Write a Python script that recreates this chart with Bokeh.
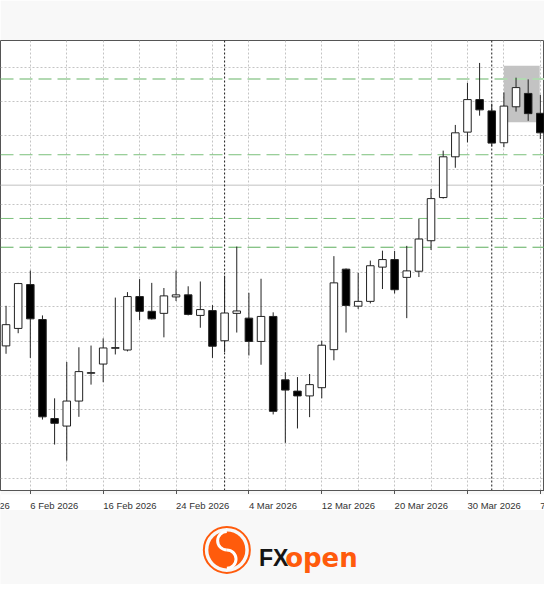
import numpy as np
import pandas as pd
from bokeh.plotting import figure
from bokeh.models import (Range1d, FixedTicker, Span, LinearAxis, ColumnDataSource,
                          BoxAnnotation)
from bokeh.layouts import column
from bokeh.embed import file_html
from bokeh.resources import INLINE
from bokeh.core.properties import value

# ---------------- data ----------------
first_day = "2026-02-04"
dates = pd.bdate_range(first_day, "2026-04-07")  # daily bars (weekdays)

opens = [138.6, 143.7, 156.5, 146.3, 117.4, 115.2, 122.5, 130.6, 133.3, 137.9,
         137.4, 153.0, 148.7, 148.1, 152.9, 153.5, 147.5, 148.9, 140.1, 148.1,
         146.7, 139.9, 147.2, 128.7, 125.4, 124.0, 126.4, 137.5, 161.0, 150.2,
         151.6, 161.6, 163.8, 158.6, 160.4, 169.3, 181.9, 193.8, 201.0, 210.5,
         207.2, 197.9, 208.4, 212.3, 206.5]
highs = [150.3, 157.0, 160.6, 147.5, 123.3, 133.9, 138.2, 138.7, 140.8, 152.7,
         154.3, 158.1, 157.0, 155.5, 160.6, 156.0, 157.4, 150.5, 159.1, 167.6,
         154.1, 158.2, 148.4, 130.9, 129.5, 130.4, 140.1, 164.8, 161.2, 159.9,
         163.5, 166.4, 166.3, 167.8, 175.7, 184.4, 195.6, 203.1, 215.4, 221.2,
         209.3, 212.6, 216.9, 216.4, 211.9]
lows = [136.3, 142.3, 135.1, 117.1, 109.8, 105.1, 117.9, 127.3, 128.0, 136.1,
        137.0, 146.1, 146.3, 141.1, 151.7, 147.5, 143.9, 135.1, 136.8, 142.5,
        135.8, 133.1, 118.6, 110.3, 114.5, 117.8, 123.3, 134.4, 142.5, 149.4,
        151.0, 155.2, 153.9, 146.7, 158.7, 166.6, 181.6, 190.6, 198.0, 205.8,
        196.8, 196.6, 207.0, 204.3, 199.0]
closes = [144.8, 156.8, 146.5, 117.9, 116.0, 122.5, 131.1, 130.8, 138.0, 138.1,
          153.0, 148.7, 146.5, 153.2, 153.5, 147.8, 149.2, 138.5, 148.2, 148.8,
          139.9, 147.2, 119.5, 125.7, 124.0, 127.3, 138.8, 157.0, 150.4, 151.6,
          162.0, 163.8, 155.0, 160.5, 169.8, 181.6, 193.8, 200.8, 210.5, 207.5,
          197.8, 208.6, 214.0, 206.4, 200.8]

label_dates = ["2026-01-29", "2026-02-06", "2026-02-16", "2026-02-24",
               "2026-03-04", "2026-03-12", "2026-03-20", "2026-03-30",
               "2026-04-07"]
separator_dates = ["2026-03-02", "2026-04-01"]   # first bar of each month
level_values = [216.5, 194.4, 175.8, 167.4]       # green dashed levels
mid_line_value = 185.5                            # grey solid level
zone_dates = ["2026-04-02", "2026-04-07"]         # shaded zone
zone_prices = [203.9, 220.4]
grid_prices = list(range(100, 230, 10))

# ---------------- derived ----------------
def bar_index(d):
    return int(np.busday_count(first_day, d))

xs = list(range(len(dates)))
label_idx = [bar_index(d) for d in label_dates]
label_txt = [pd.Timestamp(d).strftime("%-d %b %Y") for d in label_dates]
sep_idx = [bar_index(d) for d in separator_dates]
grid_idx = [i for i in xs if i % 3 == 2]

up = [c >= o for o, c in zip(opens, closes)]
src = ColumnDataSource(dict(
    x=xs, high=highs, low=lows,
    top=[max(o, c) for o, c in zip(opens, closes)],
    bottom=[min(o, c) for o, c in zip(opens, closes)],
    fill=["white" if u else "black" for u in up],
))

GRAY_BG = "#f8f8f8"
ORANGE = "#ff5b0c"
DARK = "#222222"

# ---------------- chart ----------------
p = figure(frame_width=544, frame_height=450,
           x_range=Range1d(-0.456, 44.344), y_range=Range1d(96.39, 227.75),
           x_axis_location=None, y_axis_location=None,
           output_backend="svg", toolbar_location=None,
           background_fill_color="white", border_fill_color=GRAY_BG,
           outline_line_color="#555555")
p.min_border_left = 0
p.min_border_right = 0
p.min_border_bottom = 0
p.min_border_top = 40

p.xgrid.ticker = FixedTicker(ticks=grid_idx)
p.ygrid.ticker = FixedTicker(ticks=grid_prices)
p.grid.grid_line_color = "#c4c4c4"
p.grid.grid_line_dash = "2 2"
p.grid.grid_line_width = 1

xaxis = LinearAxis(ticker=FixedTicker(ticks=label_idx),
                   major_label_overrides={i: "" for i in label_idx},
                   major_label_text_font_size="0px", major_label_standoff=0,
                   major_tick_in=0, major_tick_out=4,
                   major_tick_line_color="#555555", minor_tick_line_color=None,
                   axis_line_color="#555555")
p.add_layout(xaxis, "below")

# shaded zone (behind everything)
p.quad(left=[bar_index(zone_dates[0])], right=[bar_index(zone_dates[1]) - 0.05],
       bottom=[zone_prices[0]], top=[zone_prices[1]],
       fill_color="#c3c3c3", line_color=None, level="image")

level_colors = ["#b2d9b2", "#7cc07c", "#7cc07c", "#5dae5d"]
level_widths = [2, 1, 1, 1]
for v, c, w in zip(level_values, level_colors, level_widths):
    p.add_layout(Span(location=v, dimension="width", line_color=c,
                      line_dash="13 6", line_width=w, level="underlay"))
p.add_layout(Span(location=mid_line_value, dimension="width",
                  line_color="#d6d6d6", line_width=1.5, level="underlay"))
for s in sep_idx:
    p.add_layout(Span(location=s, dimension="height", line_color="#1a1a1a",
                      line_dash="2 2", line_width=1, level="underlay"))

p.segment(x0="x", y0="low", x1="x", y1="high", source=src,
          line_color=DARK, line_width=1)
p.vbar(x="x", width=0.62, top="top", bottom="bottom", source=src,
       fill_color="fill", line_color=DARK, line_width=1)

# ---------------- bottom strip: date labels + logo ----------------
b = figure(frame_width=544, frame_height=90,
           x_range=p.x_range, y_range=Range1d(0, 90),
           x_axis_location=None, y_axis_location=None,
           output_backend="svg", toolbar_location=None,
           background_fill_color=GRAY_BG, border_fill_color=GRAY_BG,
           outline_line_color=None)
b.min_border_left = 0
b.min_border_right = 0
b.min_border_bottom = 0
b.min_border_top = 0
b.grid.visible = False

b.add_layout(BoxAnnotation(bottom=74.5, fill_color="white", fill_alpha=1.0,
                           line_alpha=0, level="underlay"))
b.text(x=label_idx, y=[79] * len(label_idx), text=label_txt,
       text_align="left", text_baseline="alphabetic",
       text_font=value("Liberation Sans"), text_font_size="9.5px",
       text_color="#333333")

# logo (decoration): x given in reference-pixel terms
def px(xp):
    return (xp - 5.7) / 12.5

cx, cy = px(233), 34.6
b.scatter(x=[cx], y=[cy], size=46, marker="circle", fill_color=None,
          line_color=ORANGE, line_width=2)
b.scatter(x=[cx], y=[cy], size=37, marker="circle", fill_color=ORANGE,
          line_color=None)
b.arc(x=[cx], y=[cy + 9.2], radius=9.2, radius_units="screen",
      start_angle=1.5708, end_angle=4.7124, line_color="white", line_width=3)
b.arc(x=[cx], y=[cy - 9.2], radius=9.2, radius_units="screen",
      start_angle=-1.5708, end_angle=1.5708, line_color="white", line_width=3)
b.text(x=[px(266)], y=[26.3], text=["FX"], text_align="left",
       text_baseline="alphabetic", text_font=value("Liberation Sans"),
       text_font_style="bold", text_font_size="23px", text_color="#151515")
b.text(x=[px(293)], y=[26.3], text=["open"], text_align="left",
       text_baseline="alphabetic", text_font=value("DejaVu Sans"),
       text_font_style="bold", text_font_size="26px", text_color=ORANGE)

layout = column(p, b)
open("out.html", "w").write(file_html(layout, INLINE))
